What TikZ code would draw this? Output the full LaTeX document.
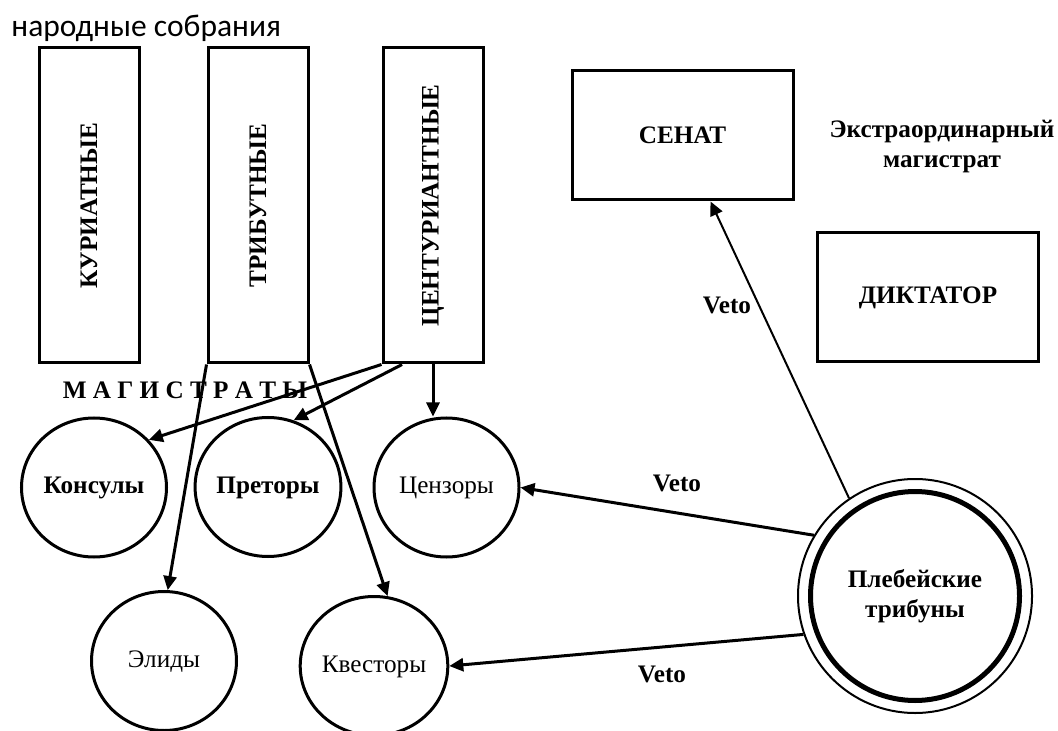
\documentclass[tikz,border=0pt]{standalone}
\usepackage{fontspec}
\setmainfont{Liberation Serif}
\newfontfamily\calibrifont{Carlito}
\usetikzlibrary{arrows.meta,shapes.geometric}

\begin{document}
\begin{tikzpicture}[x=0.5pt, y=-0.5pt,
    every node/.style={font=\fontsize{12.6}{15}\selectfont\bfseries},
    sobr/.style={draw, line width=1.5pt, minimum width=50pt, minimum height=157.5pt, inner sep=0pt},
    vlast/.style={draw, line width=1.5pt, minimum width=110.5pt, minimum height=64.5pt},
    magis/.style={ellipse, draw, line width=1.5pt, minimum width=72.5pt, minimum height=69.5pt,
      inner sep=0pt, text height=9pt, text depth=3pt},
    strel/.style={line width=1.5pt, -{Triangle[length=7pt, width=6.5pt]}}]
  \useasboundingbox (0, 0) rectangle (1058, 731);

  \path (11, 37) node[anchor=base west, inner sep=0pt,
    font=\calibrifont\fontsize{15.75}{18}\selectfont] (nar) {народные собрания};

  \foreach \n/\x/\t in {kur/89/КУРИАТНЫЕ, trib/258/ТРИБУТНЫЕ, cent/433/ЦЕНТУРИАНТНЫЕ}
  {
    \path (\x, 205.5) node[sobr] (\n) {\rotatebox{90}{\t}};
  }

  \path (185, 390) node (magtitle) {М А Г И С Т Р А Т Ы};

  \foreach \n/\x/\y/\t in {kons/94/487.5/Консулы, pret/268/487/Преторы}
  {
    \path (\x, \y) node[magis] (\n) {\t};
  }
  \foreach \n/\x/\y/\t in {cenz/446.5/487.5/Цензоры, elid/164/661/Элиды, kvest/374/666/Квесторы}
  {
    \path (\x, \y) node[magis, font=\fontsize{12.6}{15}\selectfont] (\n) {\t};
  }

  \path (682.5, 135.5) node[vlast] (senat) {СЕНАТ};
  \path (928, 297.5) node[vlast] (dikt) {ДИКТАТОР};
  \path (942, 147) node[align=center] (extra) {Экстраординарный\\магистрат};

  \path (915, 596) node[circle, draw, line width=1pt, minimum size=117pt, inner sep=0pt] (pleb) {};
  \path (915, 596) node[circle, draw, line width=2.5pt, minimum size=104.5pt, inner sep=0pt,
    align=center] (plebin) {Плебейские\\трибуны};

  \draw[strel] (cent.south west) -- (kons.41);
  \draw[strel] (cent.259) -- (pret.69);
  \draw[strel] (cent.south) -- (cent.south |- cenz.north);
  \draw[strel] (trib.south west) -- (elid.87);
  \draw[strel] (trib.south east) -- (kvest.79);

  \draw[strel] (pleb.149) -- (cenz.east);
  \draw[strel] (pleb.199) -- (kvest.east);
  \draw[strel, line width=1pt] (pleb.124) -- (senat.-67);

  \path (727, 305) node (veto1) {Veto};
  \path (677, 483) node (veto2) {Veto};
  \path (662, 674) node (veto3) {Veto};
\end{tikzpicture}
\end{document}
